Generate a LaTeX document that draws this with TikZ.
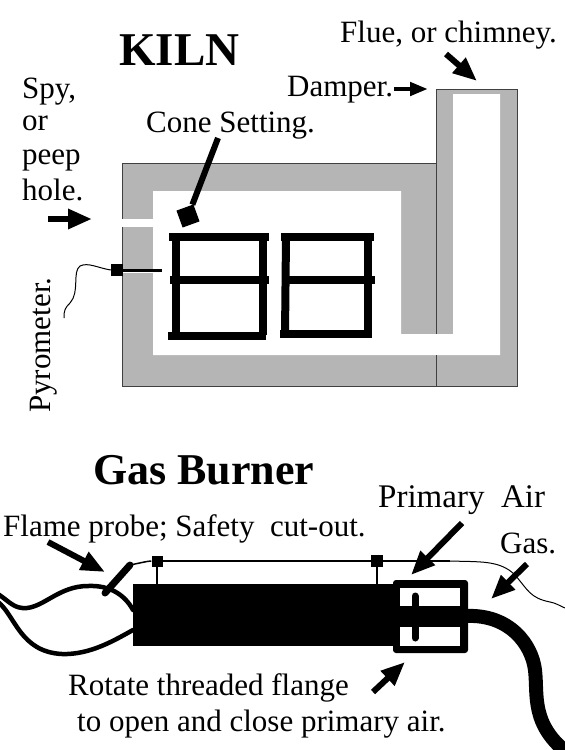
\documentclass[tikz,border=0pt]{standalone}
\usepackage{fontspec}
\setmainfont{Liberation Serif}
\usetikzlibrary{arrows.meta}
\tikzset{
  label31/.style={inner sep=0pt,font=\fontsize{31}{35}\selectfont},
  pointer/.style={line width=6pt,-{Triangle[length=24pt,width=19pt]}},
  shelf/.style={line width=8pt},
  plug/.style={fill=black,minimum size=11pt,inner sep=0pt},
  cable/.style={line width=4.5pt,line cap=round},
  wire/.style={line width=1pt},
}
\definecolor{brick}{gray}{0.71}
\begin{document}
\begin{tikzpicture}[x=1pt,y=-1pt]
  \useasboundingbox (0,0) rectangle (565,750);
  \clip (0,0) rectangle (565,750);

  % kiln walls
  \fill[brick] (122,163) -| (436,89) -| (517,386) -| cycle;
  \fill[white] (153,191) -| (401,334) -| (453,94) -| (500,355) -| cycle;
  \fill[white] (122,219) rectangle (153,227);
  \fill[white] (122,271.5) rectangle (153,273);
  \draw[wire,black!75] (122,219) |- (436,163);
  \draw[wire,black!75] (122,227) |- (517,386) |- (436,89) -- (436,334);
  \draw[wire,black!75] (436,355) -- (436,386);

  % shelves
  \draw[shelf] (169,237) -- (269,237);
  \draw[shelf] (170,280) -- (269,280);
  \draw[shelf] (168,335.5) -- (266,335.5);
  \draw[shelf] (176,237) -- (176,335);
  \draw[shelf] (263,237) -- (263,335);
  \draw[shelf] (281,237) -- (374,237);
  \draw[shelf] (283,280) -- (375,280);
  \draw[shelf] (280,334) -- (372,334);
  \draw[shelf] (286,237) -- (285,335);
  \draw[shelf] (368,237) -- (368,335);

  % cone
  \node[fill=black,minimum size=18pt,inner sep=0pt,rotate=20] (cone) at (188,216) {};
  \coordinate (coneTop) at (218,138);
  \draw[line width=6pt] (coneTop) -- (cone);

  % pyrometer
  \node[plug,minimum size=12pt] (pyroHead) at (117,270) {};
  \coordinate (pyroTip) at (162,270);
  \coordinate (pyroEnd) at (64,318);
  \draw[line width=3pt] (pyroHead) -- (pyroTip);
  \draw[wire] (pyroHead.west) .. controls (98,268) and (88,262) .. (80,266)
    .. controls (72,272) and (80,292) .. (70,303)
    .. controls (65,308) and (64,310) .. (pyroEnd);

  % burner
  \fill (133,584) rectangle (395,646);
  \fill[rounded corners=3pt] (393,580) rectangle (468,653);
  \fill[white] (400,588) rectangle (460,606);
  \fill[white] (400,627) rectangle (460,646);
  \draw[line width=7pt,line cap=round] (415,596) -- (415,638);
  \draw[line width=14pt] (466,616) .. controls (510,614) and (532,645) .. (535,670)
    .. controls (538,695) and (530,725) .. (570,755);

  % wires
  \node[plug] (plugLeft) at (157,561) {};
  \node[plug,minimum size=12pt] (plugRight) at (377,561) {};
  \coordinate (probeTop) at (130,565);
  \coordinate (probeEnd) at (105,593);
  \coordinate (wireEnd) at (565,608);
  \draw[line width=2pt] (plugLeft) -- (plugRight) -- (450,561);
  \draw[line width=2pt] (plugLeft) -- (157,584);
  \draw[line width=2pt] (plugRight) -- (377,584);
  \draw[line width=1.5pt] (plugLeft) .. controls (148,561) and (140,563) .. (probeTop);
  \draw[wire] (450,561) .. controls (480,562) and (500,560) .. (515,575)
    .. controls (528,590) and (530,598) .. (550,602) .. controls (556,603) and (560,606) .. (wireEnd);
  \draw[line width=7pt,line cap=round] (probeEnd) -- (probeTop);
  \draw[cable] (-2,594) .. controls (10,602) and (14,609) .. (27,608)
    .. controls (45,606) and (60,586) .. (88,586)
    .. controls (110,585) and (125,595) .. (133,610);
  \draw[cable] (-2,602) .. controls (15,615) and (20,652) .. (62,654)
    .. controls (90,655) and (115,640) .. (133,630);

  % arrows
  \coordinate (spyTail) at (48,219);
  \coordinate (spyTip) at (92,219);
  \coordinate (damperTail) at (394,89);
  \coordinate (damperTip) at (428,89);
  \coordinate (flueTail) at (446,54);
  \coordinate (flueTip) at (477,81);
  \coordinate (flameTail) at (48,542);
  \coordinate (flameTip) at (105,572);
  \coordinate (airTail) at (462,523);
  \coordinate (airTip) at (411,575);
  \coordinate (gasTail) at (527,564);
  \coordinate (gasTip) at (491,599);
  \coordinate (flangeTail) at (373,692);
  \coordinate (flangeTip) at (405,662);
  \draw[pointer] (spyTail) -- (spyTip);
  \draw[pointer,line width=4.5pt,-{Triangle[length=18pt,width=13pt]}] (damperTail) -- (damperTip);
  \draw[pointer] (flueTail) -- (flueTip);
  \draw[pointer] (flameTail) -- (flameTip);
  \draw[pointer] (airTail) -- (airTip);
  \draw[pointer] (gasTail) -- (gasTip);
  \draw[pointer] (flangeTail) -- (flangeTip);

  % labels
  \node[inner sep=0pt,anchor=base west,font=\fontsize{47}{50}\selectfont\bfseries] (kiln) at (119,65) {KILN};
  \node[inner sep=0pt,anchor=base west,font=\fontsize{44}{48}\selectfont\bfseries] (gasBurner) at (93,484) {Gas Burner};
  \node[label31,anchor=base west] (flue) at (340,42) {Flue, or chimney.};
  \node[label31,anchor=base west] (damper) at (287,96) {Damper.};
  \node[label31,anchor=base west] (coneSetting) at (146,132) {Cone Setting.};
  \node[label31,anchor=base west] (spy) at (22,98) {Spy,};
  \node[label31,anchor=base west] (or) at (22,130) {or};
  \node[label31,anchor=base west] (peep) at (22,164) {peep};
  \node[label31,anchor=base west] (hole) at (22,200) {hole.};
  \node[label31,anchor=base west,rotate=90] (pyrometer) at (50,413) {Pyrometer.};
  \node[label31,anchor=base west] (flame) at (3,536) {Flame probe; Safety\ \ cut-out.};
  \node[label31,anchor=base west,font=\fontsize{33}{36}\selectfont] (primaryAir) at (378,507) {Primary\ \ Air};
  \node[label31,anchor=base west] (gas) at (500,553) {Gas.};
  \node[label31,anchor=base west] (rotate) at (68,695) {Rotate threaded flange};
  \node[label31,anchor=base west] (open) at (77,731) {to open and close primary air.};
\end{tikzpicture}
\end{document}
